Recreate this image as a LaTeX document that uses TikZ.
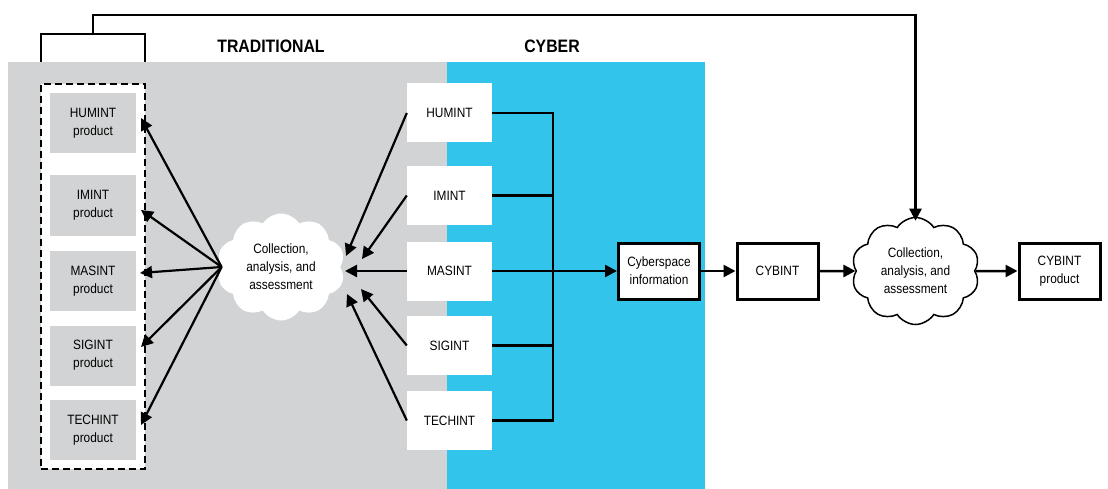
\documentclass[tikz,border=0pt]{standalone}
\usepackage{fontspec}
\setmainfont{Liberation Sans}[FakeStretch=0.88]
\usepackage{graphicx}
\usetikzlibrary{shapes,arrows,calc,arrows.meta}
\usetikzlibrary{positioning}

\definecolor{tradgray}{HTML}{D1D3D4}
\definecolor{cyberblue}{HTML}{33C4EC}

\begin{document}
\begin{tikzpicture}[x=1pt, y=-1pt,
        font=\fontsize{13.5}{18}\selectfont,
        prod/.style={fill=tradgray, minimum width=86pt, minimum height=60pt, inner sep=0pt, align=center},
        src/.style={fill=white, minimum width=85pt, minimum height=59pt, inner sep=0pt},
        infobox/.style={draw, line width=3pt, fill=white, minimum width=81pt, minimum height=56pt, inner sep=0pt, align=center},
        blob/.style={cloud, cloud puffs=10, cloud puff arc=115, aspect=1.2, fill=white, minimum width=128pt, minimum height=107pt, inner sep=0pt, align=center},
        head/.style={font=\fontsize{18}{18}\selectfont\bfseries},
        >={Triangle[length=12pt,width=12pt]}]
            \useasboundingbox (0,0) rectangle (1108,489);
            \fill[tradgray] (8,62) rectangle (447,489);
            \fill[cyberblue] (447,62) rectangle (705,489);
            \draw (271,46) node[head] (trad) {TRADITIONAL};
            \draw (552,46) node[head] (cyber) {CYBER};

            \draw (93,276.5) node[draw, dashed, dash pattern=on 7pt off 4pt, line width=1.5pt, fill=white, minimum width=104pt, minimum height=385pt] (prodgroup) {};
            \draw (93,123) node[prod] (humprod) {HUMINT\\product};
            \draw (93,205.5) node[prod] (improd) {IMINT\\product};
            \draw (93,281) node[prod] (masprod) {MASINT\\product};
            \draw (93,355.5) node[prod] (sigprod) {SIGINT\\product};
            \draw (93,430) node[prod] (techprod) {TECHINT\\product};

            \draw (281,267) node[blob] (lcloud) {Collection,\\analysis, and\\assessment};

            \draw (449.5,113) node[src] (hum) {HUMINT};
            \draw (449.5,195.5) node[src] (im) {IMINT};
            \draw (449.5,271) node[src] (mas) {MASINT};
            \draw (449.5,345.5) node[src] (sig) {SIGINT};
            \draw (449.5,420.5) node[src] (tech) {TECHINT};

            \draw (659,271) node[infobox] (cyb) {Cyberspace\\information};
            \draw (777.5,271) node[infobox] (cybint) {CYBINT};
            \draw (915.5,271) node[blob, draw, line width=1.5pt] (rcloud) {Collection,\\analysis, and\\assessment};
            \draw (1059.5,271) node[infobox] (cybprod) {CYBINT\\product};

            \coordinate (bus) at (553,271);
            \coordinate (fork) at (93,34);
            \coordinate (out1) at (141,118);
            \coordinate (out2) at (141,210);
            \coordinate (out3) at (140,273);
            \coordinate (out4) at (141,347);
            \coordinate (out5) at (141,425);
            \coordinate (in1) at (346,256);
            \coordinate (in2) at (362,259);
            \coordinate (in3) at (345,271);
            \coordinate (in4) at (361,289);
            \coordinate (in5) at (347,294);

            \draw[line width=2.5pt] (41,62) -- (41,34) -- (145,34) -- (145,62);
            \draw[->, line width=2.5pt] (fork) -- (93,15) -| ([yshift=-4pt]rcloud.north);

            \path[->, line width=2.2pt]
            (lcloud.west) edge (out1)
                          edge (out2)
                          edge (out3)
                          edge (out4)
                          edge (out5)
            (hum.west) edge (in1)
            (im.west) edge (in2)
            (mas.west) edge (in3)
            (sig.west) edge (in4)
            (tech.west) edge (in5);

            \draw[line width=2.5pt] (hum.east) -- (hum.east -| bus) -- (tech.east -| bus) -- (tech.east);
            \draw[line width=2.5pt] (im.east) -- (im.east -| bus);
            \draw[line width=2.5pt] (sig.east) -- (sig.east -| bus);
            \path[->, line width=2.5pt]
            (mas.east) edge (cyb)
            (cyb) edge (cybint)
            (cybint) edge (rcloud)
            (rcloud) edge (cybprod);
        \end{tikzpicture}
\end{document}
